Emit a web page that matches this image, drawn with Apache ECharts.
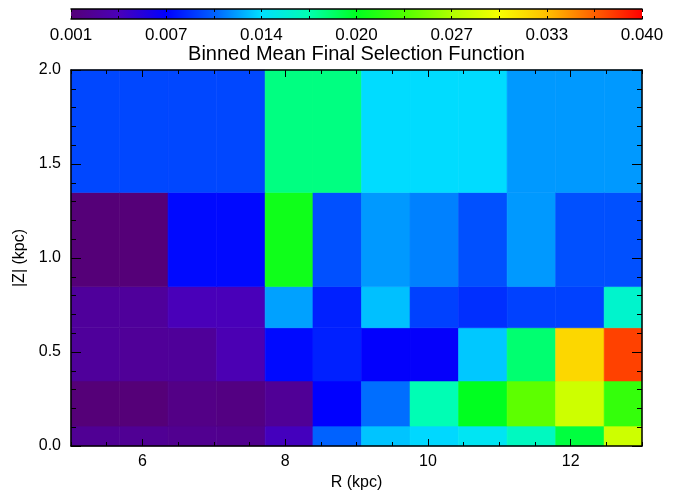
<!DOCTYPE html>
<html>
<head>
<meta charset="utf-8">
<script src="https://cdn.jsdelivr.net/npm/echarts@6/dist/echarts.min.js"></script>
<style>
html,body{margin:0;padding:0;background:#fff;}
#chart{width:694px;height:492px;}
</style>
</head>
<body>
<div id="chart"></div>
<script>
// ---- data ----
const rEdges = [5.0, 5.68, 6.36, 7.04, 7.72, 8.39, 9.07, 9.75, 10.43, 11.11, 11.79, 12.47, 13.15];
const zEdges = [0.0, 0.106, 0.346, 0.629, 0.848, 1.349, 2.0];
// mean selection function per bin, rows from bottom (|Z| small) to top
const selZ0 = [0.0024, 0.0024, 0.0022, 0.0021, 0.0045, 0.0108, 0.0133, 0.0138, 0.0145, 0.0166, 0.0198, 0.0283];
const selZ1 = [0.0010, 0.0010, 0.0017, 0.0015, 0.0025, 0.0075, 0.0111, 0.0171, 0.0205, 0.0242, 0.0283, 0.0226];
const selZ2 = [0.0028, 0.0026, 0.0027, 0.0040, 0.0078, 0.0086, 0.0074, 0.0073, 0.0134, 0.0187, 0.0323, 0.0378];
const selZ3 = [0.0028, 0.0028, 0.0043, 0.0043, 0.0124, 0.0086, 0.0132, 0.0097, 0.0091, 0.0097, 0.0097, 0.0161];
const selZ4 = [0.0010, 0.0010, 0.0078, 0.0078, 0.0211, 0.0102, 0.0122, 0.0116, 0.0102, 0.0122, 0.0102, 0.0102];
const selZ5 = [0.0099, 0.0099, 0.0099, 0.0099, 0.0183, 0.0183, 0.0139, 0.0139, 0.0139, 0.0122, 0.0122, 0.0122];
const xTickLabels = [6, 8, 10, 12];
const cbLabels = ['0.001', '0.007', '0.014', '0.020', '0.027', '0.033', '0.040'];
const cbMin = 0.001, cbMax = 0.040;

// ---- style ----
const cmapColors = ['#550078', '#4a00b8', '#0000ff', '#0060ff', '#00e0ff', '#00ffb0', '#00ff20',
                    '#50ff00', '#b0ff00', '#f8ff00', '#ffc000', '#ff6000', '#ff0000'];
const FONT = 'Liberation Sans, Arial, Helvetica, sans-serif';

const rows = [selZ0, selZ1, selZ2, selZ3, selZ4, selZ5];
const cells = [];
rows.forEach((row, ri) => {
  row.forEach((v, ci) => {
    cells.push([rEdges[ci], rEdges[ci + 1], zEdges[ri], zEdges[ri + 1], v]);
  });
});

function clipTo(params, rect) {
  return echarts.graphic.clipRectByRect(rect, {
    x: params.coordSys.x, y: params.coordSys.y,
    width: params.coordSys.width, height: params.coordSys.height
  });
}

function renderCell(params, api) {
  const p0 = api.coord([api.value(0), api.value(2)]);
  const p1 = api.coord([api.value(1), api.value(3)]);
  const shape = clipTo(params, {x: p0[0], y: p1[1], width: p1[0] - p0[0], height: p0[1] - p1[1]});
  if (!shape) return null;
  const c = api.visual('color');
  return {type: 'rect', shape: shape, style: {fill: c, stroke: c, lineWidth: 0.6}};
}

function renderBar(params, api) {
  const p0 = api.coord([api.value(0), 0]);
  const p1 = api.coord([api.value(1), 1]);
  const stops = cmapColors.map((c, i) => ({offset: i / (cmapColors.length - 1), color: c}));
  return {
    type: 'rect',
    shape: {x: p0[0], y: p1[1], width: p1[0] - p0[0], height: p0[1] - p1[1]},
    style: {fill: new echarts.graphic.LinearGradient(0, 0, 1, 0, stops)}
  };
}

const axisLine = {show: true, lineStyle: {color: '#000', width: 1.5}};
const noLine = {show: false};
const labelStyle = {color: '#000', fontSize: 16, fontFamily: FONT};

const chart = echarts.init(document.getElementById('chart'), null, {renderer: 'canvas'});
chart.setOption({
  backgroundColor: '#fff',
  animation: false,
  textStyle: {fontFamily: FONT},
  grid: [
    {left: 71, right: 52, top: 70, bottom: 46, containLabel: false, outerBoundsMode: 'none'},
    {left: 71, right: 52, top: 9, height: 10, containLabel: false, outerBoundsMode: 'none'}
  ],
  visualMap: {
    type: 'continuous', show: false, min: cbMin, max: cbMax,
    dimension: 4, seriesIndex: 0,
    inRange: {color: cmapColors}
  },
  xAxis: [
    {gridIndex: 0, type: 'value', position: 'bottom', min: 5, max: 13, interval: 0.5, z: 10,
     axisLine: axisLine, splitLine: {show: false},
     axisTick: {show: true, inside: true, length: 4, lineStyle: {color: '#000', width: 1}},
     axisLabel: Object.assign({margin: 8, formatter: v => xTickLabels.includes(v) ? String(v) : ''}, labelStyle),
     name: 'R (kpc)', nameLocation: 'middle', nameGap: 26,
     nameTextStyle: {color: '#000', fontSize: 16, fontFamily: FONT}},
    {gridIndex: 0, type: 'value', position: 'bottom', min: 5, max: 13, z: 10,
     axisLine: noLine, splitLine: {show: false},
     axisTick: {show: true, inside: true, length: 7, customValues: xTickLabels, lineStyle: {color: '#000', width: 1}},
     axisLabel: {show: false}},
    {gridIndex: 0, type: 'value', position: 'top', min: 5, max: 13, interval: 0.5, z: 10,
     axisLine: axisLine, splitLine: {show: false},
     axisTick: {show: true, inside: true, length: 4, lineStyle: {color: '#000', width: 1}},
     axisLabel: {show: false}},
    {gridIndex: 0, type: 'value', position: 'top', min: 5, max: 13, z: 10,
     axisLine: noLine, splitLine: {show: false},
     axisTick: {show: true, inside: true, length: 7, customValues: xTickLabels, lineStyle: {color: '#000', width: 1}},
     axisLabel: {show: false}},
    {gridIndex: 1, type: 'value', position: 'bottom', min: 0, max: 12, interval: 1, z: 10,
     axisLine: axisLine, splitLine: {show: false},
     axisTick: {show: true, inside: true, length: 3, lineStyle: {color: '#000', width: 1}},
     axisLabel: Object.assign({}, labelStyle, {fontSize: 17, margin: 8, formatter: v => (v % 2 === 0 ? cbLabels[v / 2] : '')}),
     name: 'Binned Mean Final Selection Function', nameLocation: 'middle', nameGap: 23,
     nameTextStyle: {color: '#000', fontSize: 20, fontFamily: FONT}},
    {gridIndex: 1, type: 'value', position: 'top', min: 0, max: 12, interval: 1, z: 10,
     axisLine: axisLine, splitLine: {show: false},
     axisTick: {show: true, inside: true, length: 3, lineStyle: {color: '#000', width: 1}},
     axisLabel: {show: false}}
  ],
  yAxis: [
    {gridIndex: 0, type: 'value', position: 'left', min: 0, max: 2, interval: 0.5, z: 10,
     axisLine: axisLine, splitLine: {show: false},
     axisTick: {show: true, inside: true, length: 10, lineStyle: {color: '#000', width: 1}},
     minorTick: {show: true, splitNumber: 5, length: 5, lineStyle: {color: '#000', width: 1}},
     minorSplitLine: {show: false},
     axisLabel: Object.assign({margin: 10, formatter: v => v.toFixed(1)}, labelStyle),
     name: '|Z| (kpc)', nameLocation: 'middle', nameGap: 38, nameRotate: 90,
     nameTextStyle: {color: '#000', fontSize: 16, fontFamily: FONT}},
    {gridIndex: 0, type: 'value', position: 'right', min: 0, max: 2, interval: 0.5, z: 10,
     axisLine: axisLine, splitLine: {show: false},
     axisTick: {show: true, inside: true, length: 10, lineStyle: {color: '#000', width: 1}},
     minorTick: {show: true, splitNumber: 5, length: 5, lineStyle: {color: '#000', width: 1}},
     axisLabel: {show: false}},
    {gridIndex: 1, type: 'value', min: 0, max: 1, show: false}
  ],
  series: [
    {type: 'custom', xAxisIndex: 0, yAxisIndex: 0, renderItem: renderCell,
     encode: {x: [0, 1], y: [2, 3]}, data: cells, z: 2},
    {type: 'custom', xAxisIndex: 4, yAxisIndex: 2, renderItem: renderBar,
     encode: {x: [0, 1]}, data: [[0, 12]], z: 2}
  ]
});
</script>
</body>
</html>
